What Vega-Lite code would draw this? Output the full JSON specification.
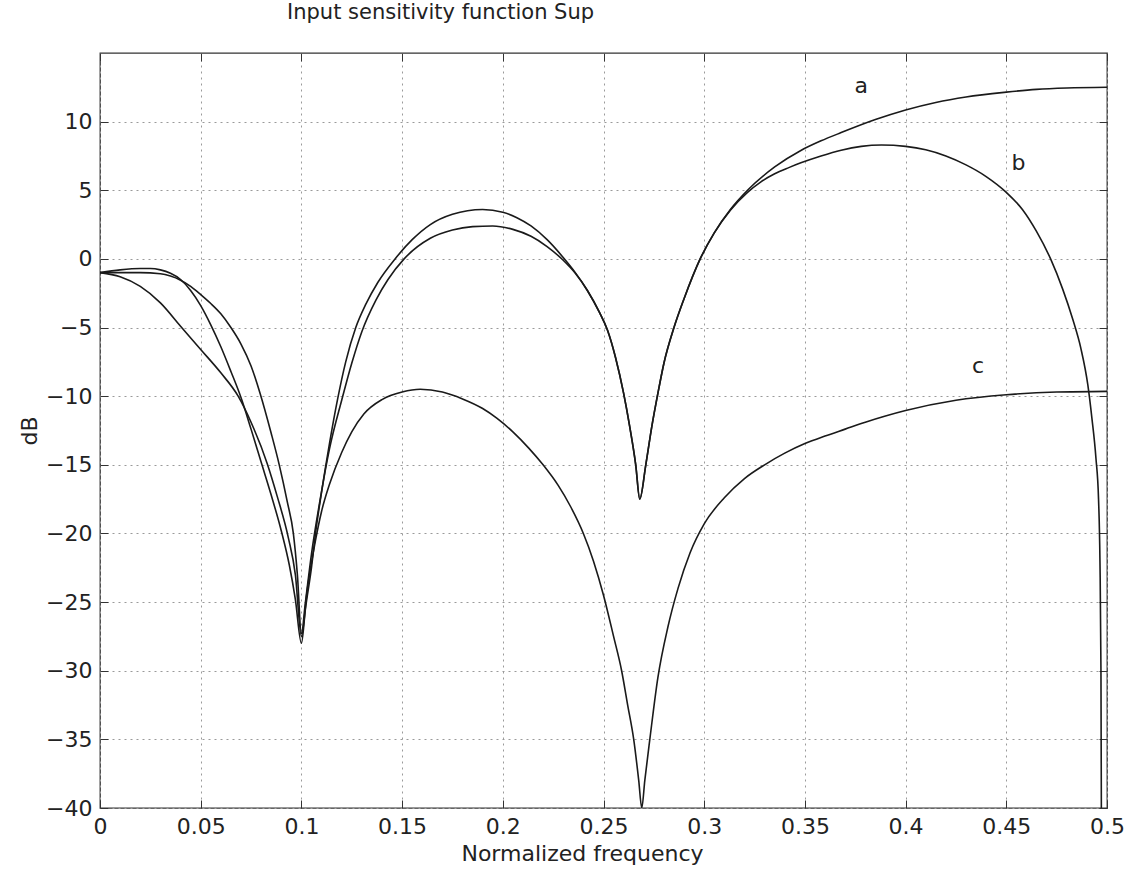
{
  "$schema": "https://vega.github.io/schema/vega-lite/v6.json",
  "width": 1007,
  "height": 755,
  "autosize": {"type": "none"},
  "padding": {"left": 100, "top": 53, "right": 19, "bottom": 63},
  "background": "white",
  "config": {
    "font": "DejaVu Sans",
    "view": {"stroke": "#333333", "strokeWidth": 1.3},
    "axis": {"labelFont": "DejaVu Sans", "titleFont": "DejaVu Sans", "labelColor": "#222222", "titleColor": "#222222", "titleFontWeight": "normal"}
  },
  "title": {"text": "Input sensitivity function Sup", "anchor": "start", "frame": "group", "dx": 187, "offset": 30, "fontSize": 21, "fontWeight": "normal", "color": "#222222", "font": "DejaVu Sans"},
  "datasets": {
    "curves": [
      {"curve": "a", "f": 0, "dB": -1.0}, {"curve": "a", "f": 0.01, "dB": -0.8}, {"curve": "a", "f": 0.02, "dB": -0.7}, {"curve": "a", "f": 0.025, "dB": -0.7}, {"curve": "a", "f": 0.03, "dB": -0.8}, {"curve": "a", "f": 0.035, "dB": -1.05}, {"curve": "a", "f": 0.04, "dB": -1.5}, {"curve": "a", "f": 0.045, "dB": -2.3}, {"curve": "a", "f": 0.05, "dB": -3.4}, {"curve": "a", "f": 0.055, "dB": -4.8}, {"curve": "a", "f": 0.06, "dB": -6.4}, {"curve": "a", "f": 0.065, "dB": -8.2}, {"curve": "a", "f": 0.07, "dB": -10.1}, {"curve": "a", "f": 0.075, "dB": -12.4}, {"curve": "a", "f": 0.08, "dB": -14.8}, {"curve": "a", "f": 0.085, "dB": -17.2}, {"curve": "a", "f": 0.09, "dB": -19.8}, {"curve": "a", "f": 0.094, "dB": -22.3}, {"curve": "a", "f": 0.097, "dB": -24.8}, {"curve": "a", "f": 0.1, "dB": -28.0}, {"curve": "a", "f": 0.102, "dB": -25.5}, {"curve": "a", "f": 0.105, "dB": -22.5}, {"curve": "a", "f": 0.107, "dB": -20.0}, {"curve": "a", "f": 0.11, "dB": -17.0}, {"curve": "a", "f": 0.114, "dB": -13.4}, {"curve": "a", "f": 0.118, "dB": -10.2}, {"curve": "a", "f": 0.122, "dB": -7.5}, {"curve": "a", "f": 0.127, "dB": -5.0}, {"curve": "a", "f": 0.132, "dB": -3.3}, {"curve": "a", "f": 0.138, "dB": -1.7}, {"curve": "a", "f": 0.1465, "dB": 0.0}, {"curve": "a", "f": 0.155, "dB": 1.4}, {"curve": "a", "f": 0.164, "dB": 2.5}, {"curve": "a", "f": 0.175, "dB": 3.25}, {"curve": "a", "f": 0.19, "dB": 3.6}, {"curve": "a", "f": 0.2, "dB": 3.4}, {"curve": "a", "f": 0.207, "dB": 3.0}, {"curve": "a", "f": 0.214, "dB": 2.4}, {"curve": "a", "f": 0.222, "dB": 1.4}, {"curve": "a", "f": 0.23, "dB": 0.1}, {"curve": "a", "f": 0.236, "dB": -1.0}, {"curve": "a", "f": 0.242, "dB": -2.3}, {"curve": "a", "f": 0.248, "dB": -3.9}, {"curve": "a", "f": 0.252, "dB": -5.2}, {"curve": "a", "f": 0.256, "dB": -7.2}, {"curve": "a", "f": 0.26, "dB": -9.8}, {"curve": "a", "f": 0.263, "dB": -12.2}, {"curve": "a", "f": 0.266, "dB": -15.0}, {"curve": "a", "f": 0.268, "dB": -17.5}, {"curve": "a", "f": 0.271, "dB": -15.0}, {"curve": "a", "f": 0.274, "dB": -12.2}, {"curve": "a", "f": 0.277, "dB": -9.8}, {"curve": "a", "f": 0.28, "dB": -7.6}, {"curve": "a", "f": 0.285, "dB": -5.0}, {"curve": "a", "f": 0.29, "dB": -2.9}, {"curve": "a", "f": 0.298, "dB": 0.0}, {"curve": "a", "f": 0.305, "dB": 1.9}, {"curve": "a", "f": 0.313, "dB": 3.6}, {"curve": "a", "f": 0.3215, "dB": 5.0}, {"curve": "a", "f": 0.335, "dB": 6.7}, {"curve": "a", "f": 0.348, "dB": 7.9}, {"curve": "a", "f": 0.358, "dB": 8.6}, {"curve": "a", "f": 0.368, "dB": 9.2}, {"curve": "a", "f": 0.385, "dB": 10.15}, {"curve": "a", "f": 0.4, "dB": 10.85}, {"curve": "a", "f": 0.415, "dB": 11.4}, {"curve": "a", "f": 0.43, "dB": 11.8}, {"curve": "a", "f": 0.45, "dB": 12.15}, {"curve": "a", "f": 0.465, "dB": 12.35}, {"curve": "a", "f": 0.48, "dB": 12.45}, {"curve": "a", "f": 0.5, "dB": 12.5},

      {"curve": "b", "f": 0, "dB": -1.0}, {"curve": "b", "f": 0.01, "dB": -1.0}, {"curve": "b", "f": 0.02, "dB": -1.0}, {"curve": "b", "f": 0.03, "dB": -1.08}, {"curve": "b", "f": 0.035, "dB": -1.25}, {"curve": "b", "f": 0.04, "dB": -1.55}, {"curve": "b", "f": 0.045, "dB": -2.0}, {"curve": "b", "f": 0.05, "dB": -2.6}, {"curve": "b", "f": 0.055, "dB": -3.25}, {"curve": "b", "f": 0.06, "dB": -4.0}, {"curve": "b", "f": 0.065, "dB": -5.0}, {"curve": "b", "f": 0.07, "dB": -6.2}, {"curve": "b", "f": 0.075, "dB": -7.8}, {"curve": "b", "f": 0.0795, "dB": -9.8}, {"curve": "b", "f": 0.085, "dB": -12.7}, {"curve": "b", "f": 0.089, "dB": -15.0}, {"curve": "b", "f": 0.093, "dB": -17.7}, {"curve": "b", "f": 0.096, "dB": -20.0}, {"curve": "b", "f": 0.098, "dB": -23.0}, {"curve": "b", "f": 0.1, "dB": -27.3}, {"curve": "b", "f": 0.102, "dB": -25.0}, {"curve": "b", "f": 0.105, "dB": -21.5}, {"curve": "b", "f": 0.109, "dB": -17.8}, {"curve": "b", "f": 0.114, "dB": -13.8}, {"curve": "b", "f": 0.12, "dB": -10.3}, {"curve": "b", "f": 0.125, "dB": -7.6}, {"curve": "b", "f": 0.13, "dB": -5.3}, {"curve": "b", "f": 0.137, "dB": -3.0}, {"curve": "b", "f": 0.143, "dB": -1.5}, {"curve": "b", "f": 0.151, "dB": 0.0}, {"curve": "b", "f": 0.164, "dB": 1.5}, {"curve": "b", "f": 0.175, "dB": 2.1}, {"curve": "b", "f": 0.185, "dB": 2.35}, {"curve": "b", "f": 0.195, "dB": 2.4}, {"curve": "b", "f": 0.205, "dB": 2.15}, {"curve": "b", "f": 0.214, "dB": 1.65}, {"curve": "b", "f": 0.222, "dB": 0.9}, {"curve": "b", "f": 0.23, "dB": -0.1}, {"curve": "b", "f": 0.236, "dB": -1.05}, {"curve": "b", "f": 0.242, "dB": -2.3}, {"curve": "b", "f": 0.248, "dB": -3.9}, {"curve": "b", "f": 0.252, "dB": -5.2}, {"curve": "b", "f": 0.256, "dB": -7.2}, {"curve": "b", "f": 0.26, "dB": -9.8}, {"curve": "b", "f": 0.263, "dB": -12.2}, {"curve": "b", "f": 0.266, "dB": -15.0}, {"curve": "b", "f": 0.268, "dB": -17.5}, {"curve": "b", "f": 0.271, "dB": -15.0}, {"curve": "b", "f": 0.274, "dB": -12.2}, {"curve": "b", "f": 0.277, "dB": -9.8}, {"curve": "b", "f": 0.28, "dB": -7.6}, {"curve": "b", "f": 0.285, "dB": -5.0}, {"curve": "b", "f": 0.29, "dB": -2.9}, {"curve": "b", "f": 0.298, "dB": 0.0}, {"curve": "b", "f": 0.305, "dB": 1.9}, {"curve": "b", "f": 0.313, "dB": 3.55}, {"curve": "b", "f": 0.3215, "dB": 4.85}, {"curve": "b", "f": 0.328, "dB": 5.6}, {"curve": "b", "f": 0.335, "dB": 6.2}, {"curve": "b", "f": 0.342, "dB": 6.65}, {"curve": "b", "f": 0.348, "dB": 7.0}, {"curve": "b", "f": 0.358, "dB": 7.5}, {"curve": "b", "f": 0.368, "dB": 7.92}, {"curve": "b", "f": 0.378, "dB": 8.2}, {"curve": "b", "f": 0.388, "dB": 8.3}, {"curve": "b", "f": 0.4, "dB": 8.2}, {"curve": "b", "f": 0.41, "dB": 7.95}, {"curve": "b", "f": 0.42, "dB": 7.5}, {"curve": "b", "f": 0.43, "dB": 6.85}, {"curve": "b", "f": 0.44, "dB": 6.0}, {"curve": "b", "f": 0.45, "dB": 4.85}, {"curve": "b", "f": 0.458, "dB": 3.6}, {"curve": "b", "f": 0.465, "dB": 2.0}, {"curve": "b", "f": 0.472, "dB": 0.0}, {"curve": "b", "f": 0.478, "dB": -2.2}, {"curve": "b", "f": 0.483, "dB": -4.4}, {"curve": "b", "f": 0.487, "dB": -6.5}, {"curve": "b", "f": 0.4905, "dB": -9.2}, {"curve": "b", "f": 0.4925, "dB": -11.6}, {"curve": "b", "f": 0.4945, "dB": -14.5}, {"curve": "b", "f": 0.4958, "dB": -17.5}, {"curve": "b", "f": 0.4965, "dB": -22.0}, {"curve": "b", "f": 0.497, "dB": -30.0}, {"curve": "b", "f": 0.4972, "dB": -40.0},

      {"curve": "c", "f": 0, "dB": -1.0}, {"curve": "c", "f": 0.01, "dB": -1.3}, {"curve": "c", "f": 0.02, "dB": -2.0}, {"curve": "c", "f": 0.03, "dB": -3.2}, {"curve": "c", "f": 0.04, "dB": -4.9}, {"curve": "c", "f": 0.05, "dB": -6.6}, {"curve": "c", "f": 0.06, "dB": -8.3}, {"curve": "c", "f": 0.0686, "dB": -10.0}, {"curve": "c", "f": 0.075, "dB": -11.9}, {"curve": "c", "f": 0.083, "dB": -14.9}, {"curve": "c", "f": 0.088, "dB": -17.3}, {"curve": "c", "f": 0.0935, "dB": -20.3}, {"curve": "c", "f": 0.097, "dB": -23.0}, {"curve": "c", "f": 0.1, "dB": -27.5}, {"curve": "c", "f": 0.103, "dB": -24.0}, {"curve": "c", "f": 0.107, "dB": -20.5}, {"curve": "c", "f": 0.11, "dB": -18.4}, {"curve": "c", "f": 0.114, "dB": -16.4}, {"curve": "c", "f": 0.12, "dB": -14.1}, {"curve": "c", "f": 0.125, "dB": -12.6}, {"curve": "c", "f": 0.131, "dB": -11.3}, {"curve": "c", "f": 0.14, "dB": -10.25}, {"curve": "c", "f": 0.15, "dB": -9.7}, {"curve": "c", "f": 0.159, "dB": -9.5}, {"curve": "c", "f": 0.17, "dB": -9.7}, {"curve": "c", "f": 0.18, "dB": -10.2}, {"curve": "c", "f": 0.19, "dB": -10.9}, {"curve": "c", "f": 0.197, "dB": -11.6}, {"curve": "c", "f": 0.205, "dB": -12.6}, {"curve": "c", "f": 0.213, "dB": -13.8}, {"curve": "c", "f": 0.22, "dB": -15.0}, {"curve": "c", "f": 0.2275, "dB": -16.5}, {"curve": "c", "f": 0.2335, "dB": -18.0}, {"curve": "c", "f": 0.24, "dB": -20.0}, {"curve": "c", "f": 0.245, "dB": -22.0}, {"curve": "c", "f": 0.25, "dB": -24.5}, {"curve": "c", "f": 0.255, "dB": -27.5}, {"curve": "c", "f": 0.259, "dB": -30.0}, {"curve": "c", "f": 0.262, "dB": -32.5}, {"curve": "c", "f": 0.265, "dB": -35.0}, {"curve": "c", "f": 0.2675, "dB": -38.0}, {"curve": "c", "f": 0.269, "dB": -40.0}, {"curve": "c", "f": 0.2705, "dB": -38.0}, {"curve": "c", "f": 0.273, "dB": -35.0}, {"curve": "c", "f": 0.277, "dB": -30.5}, {"curve": "c", "f": 0.282, "dB": -26.8}, {"curve": "c", "f": 0.287, "dB": -24.0}, {"curve": "c", "f": 0.293, "dB": -21.4}, {"curve": "c", "f": 0.3, "dB": -19.3}, {"curve": "c", "f": 0.31, "dB": -17.4}, {"curve": "c", "f": 0.32, "dB": -16.0}, {"curve": "c", "f": 0.33, "dB": -15.0}, {"curve": "c", "f": 0.34, "dB": -14.15}, {"curve": "c", "f": 0.35, "dB": -13.45}, {"curve": "c", "f": 0.36, "dB": -12.9}, {"curve": "c", "f": 0.37, "dB": -12.4}, {"curve": "c", "f": 0.38, "dB": -11.9}, {"curve": "c", "f": 0.39, "dB": -11.45}, {"curve": "c", "f": 0.4, "dB": -11.05}, {"curve": "c", "f": 0.425, "dB": -10.3}, {"curve": "c", "f": 0.45, "dB": -9.9}, {"curve": "c", "f": 0.475, "dB": -9.7}, {"curve": "c", "f": 0.5, "dB": -9.65}
    ],
    "labels": [
      {"f": 0.378, "dB": 12.6, "label": "a"},
      {"f": 0.456, "dB": 7.0, "label": "b"},
      {"f": 0.436, "dB": -7.8, "label": "c"}
    ]
  },
  "resolve": {"axis": {"x": "independent", "y": "independent"}},
  "layer": [
    {
      "data": {"name": "curves"},
      "mark": {"type": "line", "color": "#1a1a1a", "strokeWidth": 1.6, "clip": true, "interpolate": "monotone"},
      "encoding": {
        "x": {"field": "f", "type": "quantitative", "scale": {"domain": [0, 0.5], "nice": false, "zero": false},
          "axis": {"orient": "bottom", "title": "Normalized frequency", "titleFontSize": 22, "titlePadding": 6, "titleX": 482,
            "values": [0, 0.05, 0.1, 0.15, 0.2, 0.25, 0.3, 0.35, 0.4, 0.45, 0.5], "format": "~g",
            "labelFontSize": 22, "labelPadding": 16, "tickSize": -8, "tickColor": "#333333", "domain": false,
            "grid": true, "gridColor": "#9a9a9a", "gridDash": [2, 4], "gridWidth": 1, "labelFlush": false}},
        "y": {"field": "dB", "type": "quantitative", "scale": {"domain": [-40, 15], "nice": false, "zero": false},
          "axis": {"orient": "left", "title": "dB", "titleFontSize": 22, "titlePadding": 4,
            "values": [-40, -35, -30, -25, -20, -15, -10, -5, 0, 5, 10],
            "labelFontSize": 22, "labelPadding": 16, "tickSize": -8, "tickColor": "#333333", "domain": false,
            "grid": true, "gridColor": "#9a9a9a", "gridDash": [2, 4], "gridWidth": 1, "labelFlush": false}},
        "detail": {"field": "curve", "type": "nominal"}
      }
    },
    {
      "data": {"name": "labels"},
      "mark": {"type": "text", "fontSize": 22, "font": "DejaVu Sans", "color": "#222222", "align": "center", "baseline": "middle"},
      "encoding": {
        "x": {"field": "f", "type": "quantitative", "axis": {"orient": "top", "title": null, "labels": false, "domain": false, "grid": false,
          "values": [0, 0.05, 0.1, 0.15, 0.2, 0.25, 0.3, 0.35, 0.4, 0.45, 0.5], "tickSize": -8, "tickColor": "#333333"}},
        "y": {"field": "dB", "type": "quantitative", "axis": {"orient": "right", "title": null, "labels": false, "domain": false, "grid": false,
          "values": [-40, -35, -30, -25, -20, -15, -10, -5, 0, 5, 10], "tickSize": -8, "tickColor": "#333333"}},
        "text": {"field": "label", "type": "nominal"}
      }
    }
  ]
}
